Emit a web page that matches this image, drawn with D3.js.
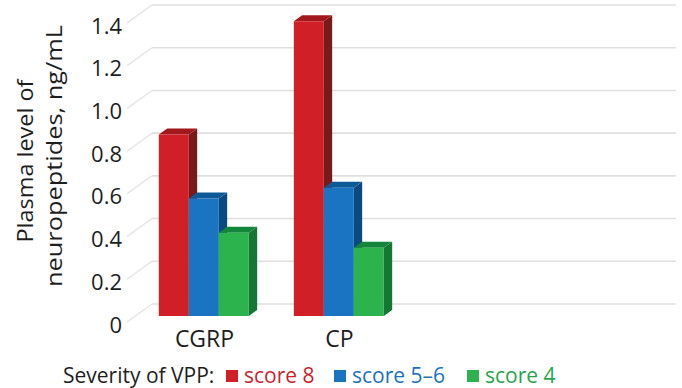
<!DOCTYPE html>
<html>
<head>
<meta charset="utf-8">
<script src="https://cdn.jsdelivr.net/npm/d3@7"></script>
<style>
  html, body { margin: 0; padding: 0; background: #fff; }
  svg { display: block; font-family: "Open Sans", "Noto Sans", sans-serif; }
</style>
</head>
<body>
<svg id="chart" width="682" height="388"></svg>
<script>
// Plasma neuropeptide levels by VPP severity score
const categories = ["CGRP", "CP"];
const seriesNames = ["score 8", "score 5–6", "score 4"];
const seriesColors = [
  { front: "#d01f27", side: "#761a1c", top: "#a3181c", text: "#cc1f2a" },
  { front: "#1a74c1", side: "#0b4a80", top: "#0d5a99", text: "#1b72bb" },
  { front: "#2db34d", side: "#157734", top: "#13863b", text: "#25a64a" }
];
const score8 = [0.85, 1.38];
const score56 = [0.55, 0.60];
const score4 = [0.39, 0.32];
const yTickValues = [0, 0.2, 0.4, 0.6, 0.8, 1.0, 1.2, 1.4];
const yTickLabels = ["0", "0.2", "0.4", "0.6", "0.8", "1.0", "1.2", "1.4"];
const legendTitle = "Severity of VPP:";
const yTitleLines = ["Plasma level of", "neuropeptides, ng/mL"];

const series = [score8, score56, score4];

const svg = d3.select("#chart");

// 3D box: front plane plus a depth offset toward the back wall
const DEPTH_X = 25, DEPTH_Y = -18;
const nSlots = 4;
const wallLeft = 127, wallRight = 651;

const y = d3.scaleLinear().domain([0, 1.4]).range([322, 23]);
const x0 = d3.scaleBand().domain(d3.range(nSlots)).range([128, 668])
  .paddingInner(1 / 3).paddingOuter(1 / 6);
const x1 = d3.scaleBand().domain(d3.range(series.length)).range([0, x0.bandwidth()]);

const P = (x, v, z) => [x + DEPTH_X * z, y(v) + DEPTH_Y * z];

// Back wall gridlines and left wall diagonals
const grid = svg.append("g");
yTickValues.forEach(v => {
  const a = P(wallLeft, v, 0), b = P(wallLeft, v, 1), c = P(wallRight, v, 1);
  grid.append("line")
    .attr("x1", a[0]).attr("y1", a[1]).attr("x2", b[0]).attr("y2", b[1])
    .attr("stroke", "#e2e2e2").attr("stroke-width", 1.2);
  grid.append("line")
    .attr("x1", b[0]).attr("y1", b[1]).attr("x2", c[0]).attr("y2", c[1])
    .attr("stroke", "#dfdfdf").attr("stroke-width", 1.6);
});

// Y tick labels
svg.append("g").selectAll("text")
  .data(yTickValues)
  .join("text")
  .attr("x", 122)
  .attr("y", d => y(d) + 10.5)
  .attr("text-anchor", "end")
  .attr("font-size", 22)
  .attr("fill", "#1e1e1e")
  .text((d, i) => yTickLabels[i]);

// Bars (front, right side, top faces)
const zFront = 1 / 3, zBack = 2 / 3;
const poly = pts => "M" + pts.map(p => p.join(",")).join("L") + "Z";

categories.forEach((cat, ci) => {
  const g = svg.append("g");
  series.forEach((vals, si) => {
    const v = vals[ci];
    const xl = x0(ci) + x1(si);
    const xr = xl + x1.bandwidth();
    const col = seriesColors[si];
    g.append("path")
      .attr("d", poly([P(xr, 0, zFront), P(xr, v, zFront), P(xr, v, zBack), P(xr, 0, zBack)]))
      .attr("fill", col.side);
    g.append("path")
      .attr("d", poly([P(xl, v, zFront), P(xr, v, zFront), P(xr, v, zBack), P(xl, v, zBack)]))
      .attr("fill", col.top);
    g.append("path")
      .attr("d", poly([P(xl, 0, zFront), P(xl, v, zFront), P(xr, v, zFront), P(xr, 0, zFront)]))
      .attr("fill", col.front);
  });
});

// Category labels
svg.append("g").selectAll("text")
  .data(categories)
  .join("text")
  .attr("x", (d, i) => x0(i) + x0.bandwidth() / 2 + 9)
  .attr("y", 347)
  .attr("text-anchor", "middle")
  .attr("font-size", 23)
  .attr("fill", "#1e1e1e")
  .text(d => d);

// Y axis title (two rotated lines)
const yTitleCenters = [161, 156];
const yTitleLengths = [163, 262];
yTitleLines.forEach((line, i) => {
  svg.append("text")
    .attr("transform", `translate(${33 + i * 29},${yTitleCenters[i]}) rotate(-90)`)
    .attr("text-anchor", "middle")
    .attr("font-size", 22)
    .attr("fill", "#1e1e1e")
    .attr("textLength", yTitleLengths[i])
    .attr("lengthAdjust", "spacingAndGlyphs")
    .text(line);
});

// Legend
const legend = svg.append("g").attr("font-size", 21);
legend.append("text")
  .attr("x", 63).attr("y", 383)
  .attr("fill", "#1e1e1e")
  .text(legendTitle);
const legendSwatchX = [226, 334, 467];
seriesNames.forEach((name, i) => {
  legend.append("rect")
    .attr("x", legendSwatchX[i]).attr("y", 370)
    .attr("width", 12).attr("height", 12)
    .attr("fill", seriesColors[i].front);
  legend.append("text")
    .attr("x", legendSwatchX[i] + 18).attr("y", 383)
    .attr("fill", seriesColors[i].text)
    .text(name);
});
</script>
</body>
</html>
